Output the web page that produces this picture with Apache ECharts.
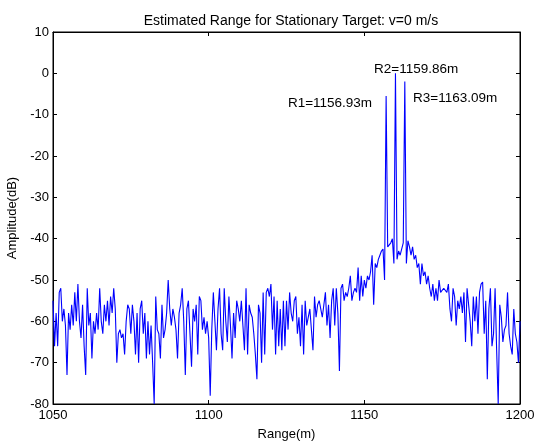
<!DOCTYPE html>
<html>
<head>
<meta charset="utf-8">
<script src="https://cdn.jsdelivr.net/npm/echarts@6/dist/echarts.min.js"></script>
<style>html,body{margin:0;padding:0;background:#fff}#c{width:539px;height:441px}</style>
</head>
<body>
<div id="c"></div>
<script>
// Range samples: start and spacing (m)
const rangeStart = 1050;
const rangeStep = 0.5;
// Amplitude (dB), one value per 0.5 m from 1050 m to 1200 m
const amplitude = [
  -55,-66,-58,-66,-53,-52,-60,-57,-61,-73,
  -58,-62,-56,-61,-53,-60,-51,-60,-64,-56,
  -66,-73,-52,-61,-58,-69,-60,-63,-58,-62,
  -52,-60,-63,-56,-60,-55,-61,-54,-58,-52,
  -57,-70,-63,-62,-64,-63,-68,-60,-56,-57,
  -63,
  -56,-60,-68,-58,-70,-57,-55,-63,-58,-69,
  -60,-68,-61,-70,-80,-54,-62,-63,-69,-56,
  -64,-62,-58,-50,-57,-61,-57,-59,-62,-69,
  -58,-56,-52,-60,-73,-57,-55,-63,-71,-57,
  -60,-56,-68,-54,-55,-62,-59,-63,-60,-64,
  -78,-62,-53,-60,-67,-57,-52,-63,-67,-52,
  -60,-65,-54,-61,-69,-58,-64,-55,-57,-60,
  -55,-55,-67,-52,-68,-56,-58,-59,-63,-68,
  -74,-56,-58,-70,-53,-68,-53,-52,-54,-51,
  -62,-54,-68,-55,-66,-57,-67,-55,-66,-55,
  -62,-53,-58,-60,-55,-54,-63,-59,-66,-56,
  -68,-55,-61,-61,-57,-57,-67,-54,-59,-56,
  -55,-55,-59,-56,-53,-61,-56,-64,-55,-52,
  -61,-52,-58,-72,-52,-51,-55,-53,-54,-52,
  -49,-55,-53,-52,-53,-47,-55,-49,-54,-50,
  -52,-49,-50,-48,-44,-56,-46,-47,-45,-44,
  -43,-42.5,-50,-5.5,-42,-41.5,-41,-40,-46,0,
  -45,-43,-44,-44,-41,-2,-46,-40.5,-42,-44,
  -42,-45,-44,-47,-46,-51,-46,-49,-48,-51,
  -49,-52,-54,-51,-55,-52,-55,-50,-53,-53,
  -52,-52,-53,-51,-57,-60,-52,-54,-61,-55,
  -57,-54,-58,-53,-65,-52,-52,-60,-66,-54,
  -60,-54,-63,-53,-51,-50.5,-63,-55,-74,-57,
  -52,-66,-63,-52,-67,-80,-56,-59,-65,-62,
  -61,-53,-63,-66,-68,-57,-63,-65,-70,-60
];
// Detected target ranges (m) and their labels
const peakRanges = [1156.93, 1159.86, 1163.09];
const peakLabels = ['R1=1156.93m', 'R2=1159.86m', 'R3=1163.09m'];
// Axis limits
const xMin = 1050, xMax = 1200, xInterval = 50;
const yMin = -80, yMax = 10, yInterval = 10;

const seriesData = amplitude.map((v, i) => [rangeStart + i * rangeStep, v]);
function peakValue(r) {
  const i = Math.round((r - rangeStart) / rangeStep);
  return amplitude[i];
}
const labelPlacement = [[-98, 7], [-21, -4], [8, 17]];
const markData = peakRanges.map((r, k) => ({
  coord: [r, peakValue(r)],
  label: { formatter: peakLabels[k], position: labelPlacement[k] }
}));

const font = "'Liberation Sans', Arial, Helvetica, sans-serif";
const axisCommon = {
  type: 'value',
  axisLine: { show: true, onZero: false, lineStyle: { color: '#000', width: 1 } },
  axisTick: { show: true, inside: true, length: 4, lineStyle: { color: '#000' } },
  splitLine: { show: false }
};

const chart = echarts.init(document.getElementById('c'), null, { renderer: 'canvas' });
chart.setOption({
  animation: false,
  backgroundColor: '#fff',
  title: {
    text: 'Estimated Range for Stationary Target: v=0 m/s',
    left: 286, top: 9, textAlign: 'center',
    textStyle: { fontFamily: font, fontSize: 14, fontWeight: 'normal', color: '#000' }
  },
  grid: {
    left: 53, right: 19, top: 32, bottom: 37,
    outerBoundsMode: 'none', containLabel: false,
    show: true, borderColor: '#000', borderWidth: 1, backgroundColor: '#fff'
  },
  xAxis: [
    Object.assign({}, axisCommon, {
      min: xMin, max: xMax, interval: xInterval, position: 'bottom',
      name: 'Range(m)', nameLocation: 'middle', nameGap: 24,
      nameTextStyle: { fontFamily: font, fontSize: 13, color: '#000' },
      axisLabel: { margin: 5, fontFamily: font, fontSize: 13, color: '#000', formatter: v => String(v) }
    }),
    Object.assign({}, axisCommon, {
      min: xMin, max: xMax, interval: xInterval, position: 'top',
      axisLabel: { show: false }
    })
  ],
  yAxis: [
    Object.assign({}, axisCommon, {
      min: yMin, max: yMax, interval: yInterval, position: 'left',
      name: 'Amplitude(dB)', nameLocation: 'middle', nameGap: 30, nameRotate: 90,
      nameTextStyle: { fontFamily: font, fontSize: 13, color: '#000' },
      axisLabel: { margin: 4, fontFamily: font, fontSize: 13, color: '#000', formatter: v => String(v) }
    }),
    Object.assign({}, axisCommon, {
      min: yMin, max: yMax, interval: yInterval, position: 'right',
      axisLabel: { show: false }
    })
  ],
  series: [{
    type: 'line',
    data: seriesData,
    xAxisIndex: 0, yAxisIndex: 0,
    showSymbol: false, symbol: 'none',
    clip: true,
    lineStyle: { color: '#0000ff', width: 1.1 },
    markPoint: {
      symbol: 'circle', symbolSize: 0,
      silent: true,
      label: { show: true, align: 'left', verticalAlign: 'middle', fontFamily: font, fontSize: 13.5, color: '#000' },
      data: markData
    }
  }]
});
</script>
</body>
</html>
